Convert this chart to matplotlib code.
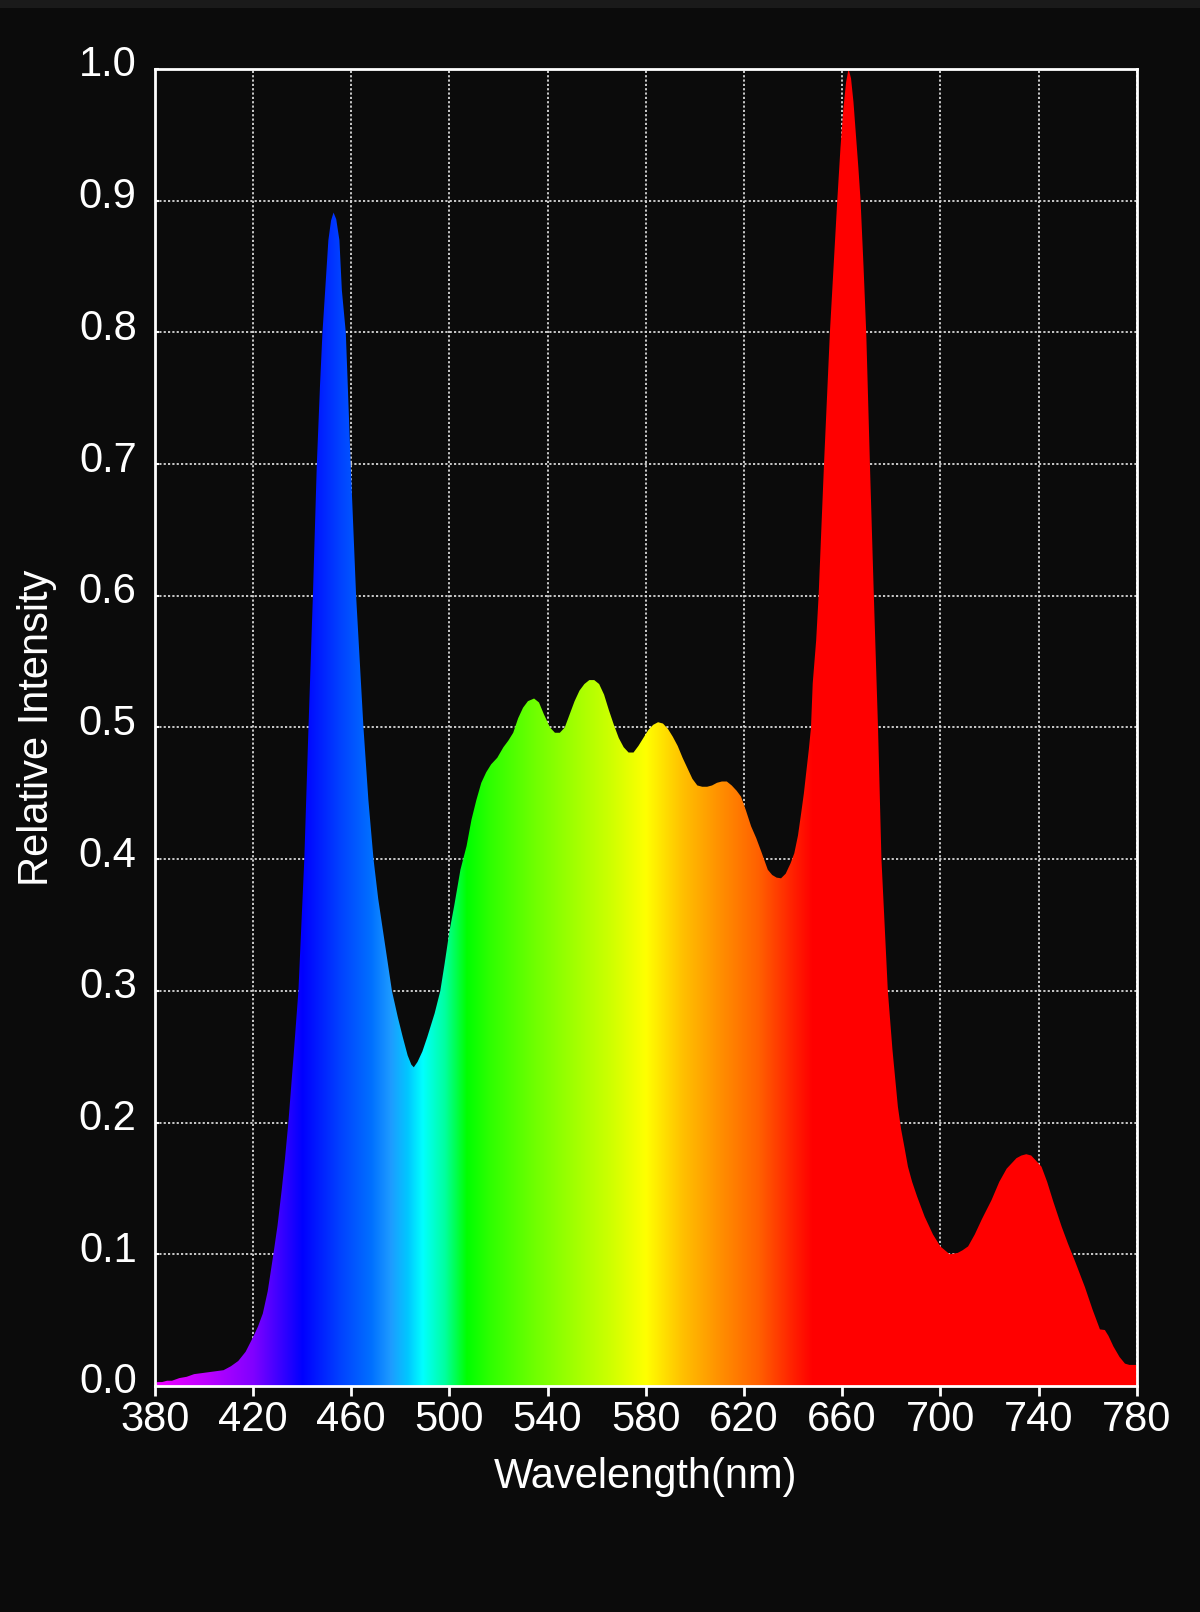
import numpy as np
import matplotlib
matplotlib.use('Agg')
import matplotlib.pyplot as plt
from matplotlib.colors import LinearSegmentedColormap
from matplotlib.patches import Rectangle
from matplotlib.transforms import ScaledTranslation

# spectrum (nm, relative intensity)
wavelength = [
    380, 381, 383, 385, 387, 390, 393, 396, 400, 404, 408, 411, 414, 417,
    420, 422, 424, 426, 428.3, 430, 431.7, 433, 434.4, 436.5, 438.5, 440.9,
    442.6, 444.4, 446, 447.3, 448.3, 449.4, 450.7, 451.8, 452.8, 453.9, 455.2,
    456.2, 457.8, 459.8, 462.0, 465, 467, 469.1, 471, 473, 475, 476.6, 479,
    481, 483, 484.5, 485.5, 487, 489, 491, 494, 496.3, 498, 500, 502, 504.5,
    507, 509, 511, 513, 515, 517, 519.5, 522, 524, 526, 528, 530, 532, 534.5,
    536.5, 538.5, 541, 543, 545, 547, 549, 551, 553, 555, 557, 559, 561, 563,
    565, 567, 569, 571, 573, 575, 577, 579, 581, 583, 585, 587, 589, 591, 593,
    595, 597, 599, 601, 603, 605, 607, 609, 611, 613, 615, 617, 618.8, 620.8,
    622.9, 625, 627.2, 629.7, 631.5, 633.3, 635.1, 637, 639, 640.5, 642,
    643.3, 644.4, 645.3, 646.4, 647.3, 648.0, 649.4, 650.4, 651.5, 652.6,
    653.8, 655.0, 656.5, 658.0, 659.3, 660.5, 661.6, 662.6, 663.6, 664.6,
    665.6, 666.6, 667.5, 668.7, 669.8, 671.3, 672.9, 674.6, 676.0, 677.3,
    678.6, 680.5, 682.7, 684, 685.4, 686.8, 688.5, 690.5, 693.6, 697, 700,
    703.8, 707, 709, 711.3, 714, 717, 720.8, 724, 727, 729, 731, 733, 735,
    737, 739, 741.2, 743.5, 746, 749.4, 752, 755, 758.9, 762, 765, 767, 768.5,
    770.5, 773, 775.2, 777, 779, 780,
]
intensity = [
    0.000, 0.003, 0.003, 0.004, 0.004, 0.006, 0.007, 0.009, 0.010, 0.011,
    0.012, 0.015, 0.019, 0.026, 0.037, 0.045, 0.055, 0.072, 0.100, 0.122,
    0.149, 0.172, 0.200, 0.250, 0.300, 0.400, 0.500, 0.600, 0.700, 0.760,
    0.800, 0.832, 0.870, 0.885, 0.891, 0.886, 0.870, 0.832, 0.800, 0.700,
    0.600, 0.500, 0.445, 0.400, 0.370, 0.345, 0.320, 0.300, 0.280, 0.265,
    0.251, 0.244, 0.242, 0.246, 0.254, 0.265, 0.283, 0.300, 0.320, 0.345,
    0.365, 0.392, 0.410, 0.430, 0.445, 0.458, 0.466, 0.472, 0.477, 0.485,
    0.490, 0.496, 0.507, 0.515, 0.520, 0.522, 0.519, 0.510, 0.500, 0.496,
    0.496, 0.500, 0.510, 0.520, 0.528, 0.533, 0.536, 0.536, 0.533, 0.525,
    0.513, 0.502, 0.492, 0.485, 0.481, 0.481, 0.486, 0.492, 0.498, 0.502,
    0.504, 0.503, 0.499, 0.493, 0.486, 0.477, 0.469, 0.461, 0.456, 0.455,
    0.455, 0.456, 0.458, 0.459, 0.459, 0.456, 0.452, 0.4475, 0.437, 0.425,
    0.416, 0.405, 0.392, 0.388, 0.386, 0.3855, 0.389, 0.397, 0.4045, 0.418,
    0.435, 0.450, 0.465, 0.483, 0.500, 0.5335, 0.566, 0.600, 0.650, 0.700,
    0.750, 0.800, 0.850, 0.900, 0.940, 0.970, 0.990, 1.000, 0.993, 0.975,
    0.950, 0.925, 0.900, 0.850, 0.800, 0.700, 0.600, 0.500, 0.400, 0.350,
    0.300, 0.255, 0.212, 0.195, 0.181, 0.1665, 0.155, 0.144, 0.1286, 0.115,
    0.106, 0.100, 0.101, 0.103, 0.106, 0.115, 0.127, 0.141, 0.155, 0.165,
    0.169, 0.173, 0.175, 0.176, 0.175, 0.171, 0.1665, 0.155, 0.140, 0.121,
    0.108, 0.094, 0.075, 0.058, 0.043, 0.0425, 0.038, 0.030, 0.022, 0.017,
    0.016, 0.016, 0.016,
]

x_ticks = [380, 420, 460, 500, 540, 580, 620, 660, 700, 740, 780]
y_ticks = [0.0, 0.1, 0.2, 0.3, 0.4, 0.5, 0.6, 0.7, 0.8, 0.9, 1.0]

# colour stops of the visible spectrum gradient
stops = [
    (380, '#f000ff'), (400, '#c000ff'), (420, '#8000ff'), (430, '#4000ff'),
    (440, '#0000ff'), (455, '#0040ff'), (468, '#0070ff'), (476, '#1e9bff'),
    (483, '#00c8ff'), (489, '#00ffff'), (498, '#00ffa0'), (507, '#00ff00'),
    (517, '#30ff00'), (535, '#70ff00'), (553, '#a8ff00'), (565, '#ccff00'),
    (580, '#ffff00'), (595, '#ffc000'), (610, '#ff9000'), (626, '#ff6000'),
    (640, '#ff2000'), (648, '#ff0000'), (780, '#ff0000'),
]

BG = '#0b0b0b'
plt.rcParams['font.family'] = ['Liberation Sans', 'DejaVu Sans']

fig = plt.figure(figsize=(12, 16.12), dpi=100, facecolor=BG)
fig.patches.append(Rectangle((0, 1 - 8 / 1612), 1, 8 / 1612, transform=fig.transFigure,
                             facecolor='#1a1a1a', edgecolor='none'))
ax = fig.add_axes([0.129, 0.1402, 0.8183, 0.817])
ax.set_facecolor(BG)

cmap = LinearSegmentedColormap.from_list(
    'spec', [((w - 380) / 400, c) for w, c in stops], N=1024)
grad = np.linspace(0, 1, 1024)[None, :]
im = ax.imshow(grad, cmap=cmap, extent=[380, 780, 0, 1], aspect='auto',
               origin='lower', zorder=1, interpolation='bilinear')
shape, = ax.fill(np.r_[wavelength, 780, 380], np.r_[intensity, 0, 0],
                 facecolor='none', edgecolor='none')
im.set_clip_path(shape)

ax.set_xlim(380, 780)
ax.set_ylim(0, 1.0)
ax.set_xticks(x_ticks)
ax.set_yticks(y_ticks)
ax.set_yticklabels(['%.1f' % v for v in y_ticks])

ax.set_axisbelow(True)
ax.grid(True, color='#d8d8d8', linestyle=(0, (1.2, 1.2)), linewidth=1.3)

for s in ax.spines.values():
    s.set_color('white')
    s.set_linewidth(2.0)
    s.set_zorder(3)

ax.tick_params(axis='x', direction='out', length=7, width=2, color='white',
               labelcolor='white', labelsize=30, pad=3)
ax.tick_params(axis='y', direction='in', length=3, width=1.5, color='white',
               labelcolor='white', labelsize=30, pad=13)
up = ScaledTranslation(0, 8 / 100, fig.dpi_scale_trans)
for lab in ax.get_yticklabels():
    lab.set_transform(lab.get_transform() + up)

ax.set_xlabel('Wavelength(nm)', color='white', fontsize=30)
ax.set_ylabel('Relative Intensity', color='white', fontsize=30)
ax.xaxis.set_label_coords(0.5, -0.054)
ax.yaxis.set_label_coords(-0.100, 0.5)

fig.savefig('out.png', dpi=100, facecolor=BG)
